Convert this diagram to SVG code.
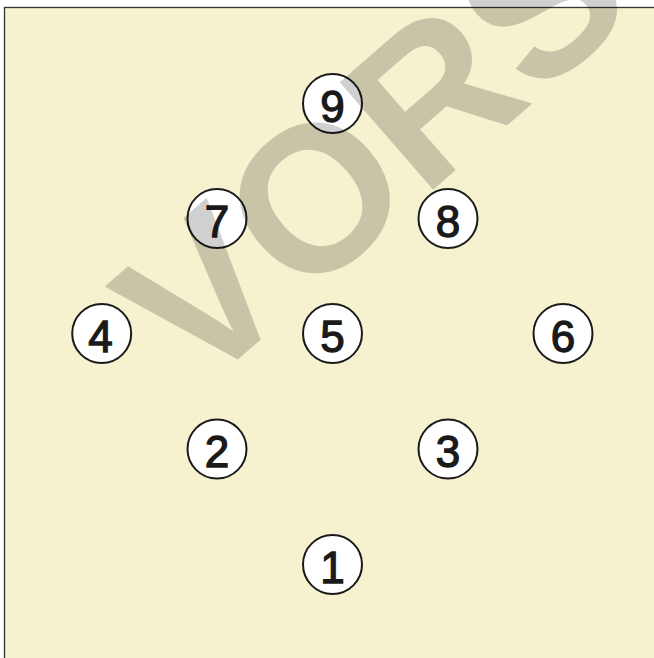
<svg xmlns="http://www.w3.org/2000/svg" width="654" height="658" viewBox="0 0 654 658">
<style>
.node circle{fill:#fff;stroke:#1a1a1a;stroke-width:2}
.node text{font-family:"Liberation Sans",Arial,sans-serif;font-size:44px;fill:#1a1a1a;stroke:#1a1a1a;stroke-width:1.3;text-anchor:middle}
.wm{font-family:"Liberation Sans",Arial,sans-serif;font-weight:bold;font-size:207px;fill:#000;fill-opacity:0.185}
</style>
<rect x="0" y="0" width="654" height="658" fill="#fff"/>
<rect x="4.5" y="7.5" width="700" height="700" fill="#F6F1CE" stroke="#333" stroke-width="1.3"/>
<g id="connectors"></g>
<g id="n9" class="node"><circle cx="332.5" cy="103.5" r="29.5"/><text x="332.5" y="121.5">9</text></g>
<g id="n7" class="node"><circle cx="217" cy="218.5" r="29.5"/><text x="217" y="236.5">7</text></g>
<g id="n8" class="node"><circle cx="448" cy="218.5" r="29.5"/><text x="448" y="236.5">8</text></g>
<g id="n4" class="node"><circle cx="101.7" cy="333.5" r="29.5"/><text x="100.5" y="351.5">4</text></g>
<g id="n5" class="node"><circle cx="332.5" cy="333.5" r="29.5"/><text x="332.5" y="351.5">5</text></g>
<g id="n6" class="node"><circle cx="563" cy="333.5" r="29.5"/><text x="563" y="351.5">6</text></g>
<g id="n2" class="node"><circle cx="217" cy="449" r="29.5"/><text x="217" y="467">2</text></g>
<g id="n3" class="node"><circle cx="448" cy="449" r="29.5"/><text x="448" y="467">3</text></g>
<g id="n1" class="node"><circle cx="332.5" cy="564.5" r="29.5"/><text x="332.5" y="582.5">1</text></g>
<text class="wm" transform="translate(197,395) rotate(-41)">VORS</text>
</svg>
